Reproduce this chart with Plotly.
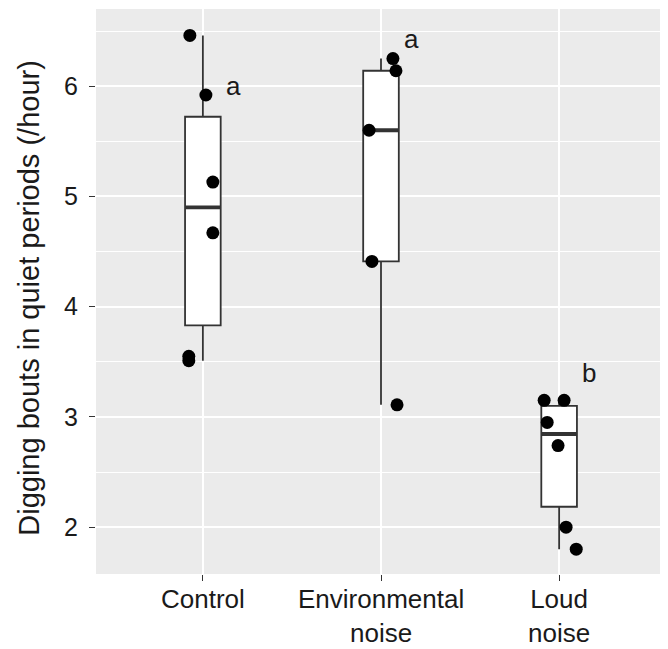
import numpy as np
import plotly.graph_objects as go

categories = ["Control", "Environmental\nnoise", "Loud\nnoise"]
values = [
    [6.46, 5.92, 5.13, 4.67, 3.55, 3.51],
    [6.25, 6.14, 5.60, 4.41, 3.11],
    [3.15, 3.15, 2.95, 2.74, 2.00, 1.80],
]
jitter = [
    [-0.073, 0.017, 0.056, 0.056, -0.079, -0.079],
    [0.067, 0.084, -0.067, -0.051, 0.090],
    [-0.084, 0.028, -0.067, -0.006, 0.039, 0.096],
]
letters = ["a", "a", "b"]
letter_y = [6.0, 6.43, 3.4]
y_ticks = [2, 3, 4, 5, 6]
y_title = "Digging bouts in quiet periods (/hour)"

FONT = "Liberation Sans, Arial, sans-serif"
TXT = "#1a1a1a"
fig = go.Figure()

for i, vals in enumerate(values):
    v = np.array(vals)
    q1, med, q3 = np.percentile(v, [25, 50, 75])
    iqr = q3 - q1
    lo = v[v >= q1 - 1.5 * iqr].min()
    hi = v[v <= q3 + 1.5 * iqr].max()
    fig.add_trace(go.Box(
        x=[i], q1=[q1], median=[med], q3=[q3], lowerfence=[lo], upperfence=[hi],
        width=0.2, whiskerwidth=0, fillcolor="white",
        line=dict(color="#333333", width=1.8),
        boxpoints=False, hoverinfo="skip", showlegend=False,
    ))
    fig.add_trace(go.Scatter(
        x=[i - 0.1, i + 0.1], y=[med, med], mode="lines",
        line=dict(color="#333333", width=3.8), showlegend=False, hoverinfo="skip",
    ))
    fig.add_trace(go.Scatter(
        x=[i + j for j in jitter[i]], y=vals, mode="markers",
        marker=dict(color="black", size=13), showlegend=False,
    ))
    fig.add_annotation(x=i + 0.17, y=letter_y[i], text=letters[i], showarrow=False,
                       font=dict(size=26, color=TXT, family=FONT))
    fig.add_annotation(x=i, xref="x", y=0, yref="paper", yanchor="top",
                       yshift=-9, text=categories[i].replace("\n", "<br>"),
                       showarrow=False, borderpad=0, align="center",
                       font=dict(size=26, color=TXT, family=FONT))

fig.add_annotation(x=0, xref="paper", xshift=-67, y=0.489, yref="paper",
                   text=y_title, textangle=-90, showarrow=False,
                   xanchor="center", yanchor="middle",
                   font=dict(size=29, color=TXT, family=FONT))

# page body has an 8px margin, so the figure is drawn at (8, 8)
fig.update_layout(
    width=660, height=641,
    margin=dict(l=88, r=2, t=1, b=75, autoexpand=False),
    paper_bgcolor="white", plot_bgcolor="#EBEBEB",
    font=dict(family=FONT, color=TXT),
    boxmode="overlay",
)
fig.update_xaxes(
    range=[-0.6, 2.6], tickvals=[0, 1, 2], showticklabels=False,
    showgrid=True, gridcolor="white", gridwidth=1.6, zeroline=False,
    ticks="outside", ticklen=6, tickcolor="#333333", tickwidth=1.4,
    automargin=False,
)
fig.update_yaxes(
    range=[1.575, 6.70], tickvals=y_ticks,
    showgrid=True, gridcolor="white", gridwidth=1.6, zeroline=False,
    minor=dict(dtick=0.5, showgrid=True, gridcolor="white", gridwidth=0.8),
    ticks="outside", ticklen=6, tickcolor="#333333", tickwidth=1.4,
    ticklabelstandoff=6,
    tickfont=dict(size=25, color=TXT, family=FONT),
    automargin=False,
)
fig.write_html("out.html")
